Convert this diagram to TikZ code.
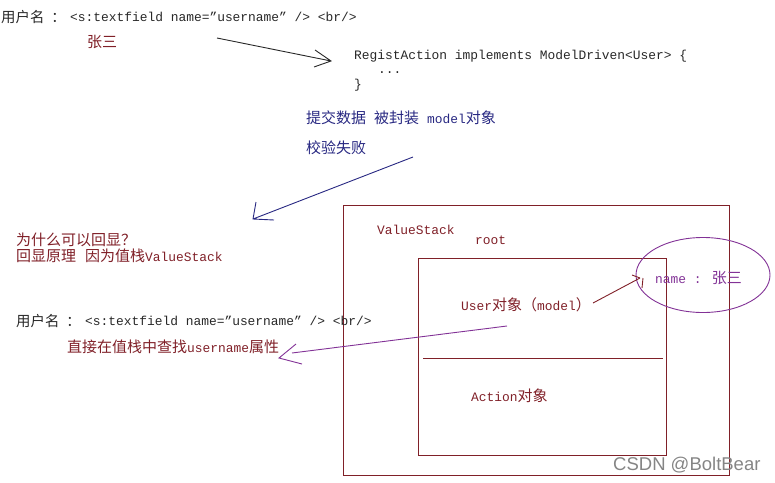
\documentclass[tikz,border=0pt]{standalone}
\usepackage{fontspec}
\usetikzlibrary{shapes.geometric}
\setmainfont{Liberation Mono}
\newfontfamily\cjk{Noto Sans CJK SC}
\newfontfamily\sans{Liberation Sans}
\definecolor{brn}{RGB}{128,32,40}
\definecolor{blu}{RGB}{40,40,130}
\definecolor{pur}{RGB}{130,50,150}
\definecolor{ink}{RGB}{40,40,40}
\tikzset{
  txt/.style={anchor=west,inner sep=0pt,font=\fontsize{12.9}{14}\selectfont,text=ink},
  redt/.style={txt,text=brn},
  blt/.style={txt,text=blu},
  prt/.style={txt,text=pur},
  boxb/.style={draw=brn,line width=1.1pt,inner sep=0pt,anchor=north west},
  lnk/.style={line width=0.9pt},
}
\newcommand{\zh}[1]{{\cjk\fontsize{15}{17}\selectfont #1}}
\newcommand{\zhs}[1]{{\cjk\fontsize{14.4}{17}\selectfont #1}}
\begin{document}
\begin{tikzpicture}[x=1pt,y=-1pt]
\useasboundingbox (0,0) rectangle (775,482);
% boxes
\node[boxb,minimum width=386pt,minimum height=270pt] (outer) at (343,205) {};
\node[boxb,minimum width=248pt,minimum height=197pt] (inner) at (418,258) {};
\coordinate (dl) at (423,358); \coordinate (dr) at (663,358);
\draw[draw=brn,line width=0.9pt] (dl) -- (dr);
\node[draw=pur,line width=0.9pt,ellipse,minimum width=134pt,minimum height=75pt,inner sep=0pt] (nm) at (703,275) {};
% texts
\node[txt] (t1) at (1,17) {\zhs{用户名\hspace{7pt}：}};
\node[txt] (t1b) at (70,17) {<s:textfield name="username" /> <br/>};
\node[redt] (t2) at (87,42) {\zh{张三}};
\node[txt] (t3) at (354,56) {RegistAction implements ModelDriven<User> \{};
\node[txt] (t4) at (378,73) {...};
\node[txt] (t5) at (354,85) {\}};
\node[blt] (t6) at (306,118) {\zh{提交数据\hspace{8pt}被封装\hspace{8pt}}model\zh{对象}};
\node[blt] (t7) at (306,148) {\zh{校验失败}};
\node[redt] (t8) at (16,240) {\zh{为什么可以回显？}};
\node[redt] (t9) at (16,256) {\zh{回显原理\hspace{9pt}因为值栈}ValueStack};
\node[txt] (t10) at (16,321) {\zhs{用户名\hspace{7pt}：}};
\node[txt] (t10b) at (85,321) {<s:textfield name="username" /> <br/>};
\node[redt] (t11) at (67,347) {\zh{直接在值栈中查找}username\zh{属性}};
\node[redt] (t12) at (377,230) {ValueStack};
\node[redt] (t13) at (475,240) {root};
\node[redt] (t14) at (461,305) {User\zh{对象（}model\zh{）}};
\node[redt] (t15) at (471,396) {Action\zh{对象}};
\node[prt] (t16) at (655,278) {name : \zh{张三}};
\node[anchor=west,inner sep=0pt,text=black!48,font=\sans\fontsize{18.5}{20}\selectfont] (wm) at (613,465) {CSDN @BoltBear};
% connectors
\coordinate (a1s) at (217,38); \coordinate (a1e) at (331,61);
\coordinate (a1u) at (315,50); \coordinate (a1d) at (314,67);
\draw[lnk,draw=ink] (a1s) -- (a1e) (a1u) -- (a1e) -- (a1d);
\coordinate (a2s) at (413,157); \coordinate (a2e) at (253,219);
\coordinate (a2u) at (256,202); \coordinate (a2d) at (274,220);
\draw[lnk,draw=blu] (a2s) -- (a2e) (a2u) -- (a2e) -- (a2d);
\coordinate (a3s) at (593,303); \coordinate (a3e) at (640,278);
\coordinate (a3u) at (632,275); \coordinate (a3v) at (643,278); \coordinate (a3d) at (642,288);
\draw[lnk,draw=brn] (a3s) -- (a3e) (a3u) -- (a3e) (a3v) -- (a3d);
\coordinate (a4s) at (507,326); \coordinate (a4e) at (292,353);
\coordinate (a4u) at (296,344); \coordinate (a4t) at (279,358); \coordinate (a4d) at (302,364);
\draw[lnk,draw=pur] (a4s) -- (a4e) (a4u) -- (a4t) -- (a4d);
\end{tikzpicture}
\end{document}
